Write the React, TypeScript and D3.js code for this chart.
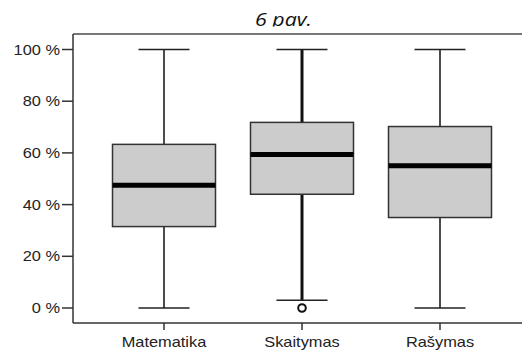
import React from "react";
import * as d3 from "d3";

const categories = ["Matematika", "Skaitymas", "Rašymas"];
const minValues = [0, 3, 0];
const q1Values = [31.5, 44, 35];
const medianValues = [47.5, 59.4, 55];
const q3Values = [63.3, 71.8, 70.2];
const maxValues = [100, 100, 100];
const outliers: [string, number][] = [["Skaitymas", 0]];
const yTicks = [0, 20, 40, 60, 80, 100];
const title = "6 pav.";

const W = 522;
const H = 352;
const left = 73;
const right = 522;
const top = 34;
const bottom = 323;
const sx = 1.17;

export default function App() {
  const y = d3.scaleLinear().domain([0, 100]).range([308, 49.5]);
  const x = d3.scalePoint<string>().domain(categories).range([164, 440]);
  const boxW = 103;
  const capW = 51;
  const whiskerW = [1.5, 3, 1.5];

  return (
    <svg
      width={W}
      height={H}
      style={{ position: "absolute", left: 0, top: 0, background: "#fff" }}
    >
      <defs>
        <clipPath id="titleClip">
          <rect x={0} y={0} width={W} height={26.5} />
        </clipPath>
      </defs>
      <text
        x={255}
        y={26}
        textAnchor="start"
        fontFamily="'Open Sans', 'Noto Sans', sans-serif"
        fontStyle="italic"
        fontSize={18}
        fill="#111"
        textLength={57}
        lengthAdjust="spacingAndGlyphs"
        clipPath="url(#titleClip)"
      >
        {title}
      </text>
      {/* frame */}
      <line x1={left} x2={right} y1={top} y2={top} stroke="#777" strokeWidth={1.8} />
      <line x1={left} x2={left} y1={top} y2={bottom} stroke="#333" strokeWidth={1.5} />
      <line x1={left} x2={right} y1={bottom} y2={bottom} stroke="#333" strokeWidth={1.5} />
      {/* y ticks */}
      {yTicks.map((t) => (
        <g key={t}>
          <line x1={62} x2={left} y1={y(t)} y2={y(t)} stroke="#333" strokeWidth={1.5} />
          <text
            transform={`translate(60,${y(t) + 5}) scale(${sx},1)`}
            textAnchor="end"
            fontFamily="'Liberation Sans', Arial, sans-serif"
            fontSize={14}
            fill="#222"
          >
            {t} %
          </text>
        </g>
      ))}
      {/* x ticks */}
      {categories.map((c) => (
        <g key={c}>
          <line x1={x(c)} x2={x(c)} y1={bottom} y2={330} stroke="#333" strokeWidth={1.5} />
          <text
            transform={`translate(${x(c)},346.5) scale(${sx},1)`}
            textAnchor="middle"
            fontFamily="'Liberation Sans', Arial, sans-serif"
            fontSize={14}
            fill="#222"
          >
            {c}
          </text>
        </g>
      ))}
      {/* boxes */}
      {categories.map((c, i) => {
        const cx = x(c) as number;
        const ww = whiskerW[i];
        return (
          <g key={c}>
            <line x1={cx} x2={cx} y1={y(maxValues[i])} y2={y(q3Values[i])} stroke="#111" strokeWidth={ww} />
            <line x1={cx} x2={cx} y1={y(minValues[i])} y2={y(q1Values[i])} stroke="#111" strokeWidth={ww} />
            <line x1={cx - capW / 2} x2={cx + capW / 2} y1={y(maxValues[i])} y2={y(maxValues[i])} stroke="#222" strokeWidth={1.5} />
            <line x1={cx - capW / 2} x2={cx + capW / 2} y1={y(minValues[i])} y2={y(minValues[i])} stroke="#222" strokeWidth={1.5} />
            <rect
              x={cx - boxW / 2}
              y={y(q3Values[i])}
              width={boxW}
              height={y(q1Values[i]) - y(q3Values[i])}
              fill="#cccccc"
              stroke="#333"
              strokeWidth={1.5}
            />
            <line
              x1={cx - boxW / 2}
              x2={cx + boxW / 2}
              y1={y(medianValues[i])}
              y2={y(medianValues[i])}
              stroke="#000"
              strokeWidth={5}
            />
          </g>
        );
      })}
      {outliers.map(([c, v], i) => (
        <circle key={i} cx={x(c)} cy={y(v)} r={3.8} fill="none" stroke="#111" strokeWidth={2} />
      ))}
    </svg>
  );
}
